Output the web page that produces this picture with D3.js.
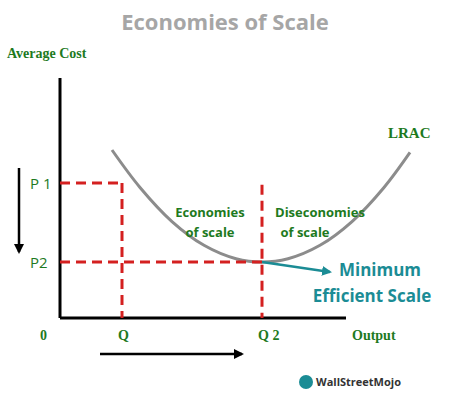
<!DOCTYPE html>
<html><head><meta charset="utf-8">
<script src="https://d3js.org/d3.v7.min.js"></script>
<style>body{margin:0;background:#fff}</style></head>
<body><svg id="c" width="469" height="405"></svg>
<script>
const curveX=[13,20,28,36,44,50.5,57,65,73,81,87.5];
const curveY=[70,54.4,40.2,30.3,24.7,23.3,24.7,30.3,40.2,54.4,69];
const qValues=[15.5,50.5];
const pValues=[56.25,23.3];
const qLabels=["Q","Q 2"];
const pLabels=["P 1","P2"];

const svg=d3.select("#c");
const x=d3.scaleLinear().domain([0,100]).range([60,460]);
const y=d3.scaleLinear().domain([0,100]).range([318,78]);
const green="#1e7a1e", red="#d42020", teal="#1b8c95";

svg.append("text").attr("x",225).attr("y",30).attr("text-anchor","middle")
 .attr("font-family","Open Sans").attr("font-weight","bold").attr("font-size",22).attr("fill","#a6a6a6").text("Economies of Scale");
svg.append("text").attr("x",7).attr("y",58).attr("font-family","Liberation Serif").attr("font-weight","bold").attr("font-size",14).attr("fill",green).text("Average Cost");

// axes
svg.append("line").attr("x1",x(0)).attr("x2",x(0)).attr("y1",y(100)).attr("y2",y(0)).attr("stroke","#000").attr("stroke-width",3);
svg.append("line").attr("x1",x(0)).attr("x2",x(71.5)).attr("y1",y(0)).attr("y2",y(0)).attr("stroke","#000").attr("stroke-width",3);

// curve
const pts=curveX.map((d,i)=>[x(d),y(curveY[i])]);
svg.append("path").attr("d",d3.line().curve(d3.curveCatmullRom)(pts)).attr("fill","none").attr("stroke","#8c8c8c").attr("stroke-width",3);
svg.append("text").attr("x",388).attr("y",138).attr("font-family","Liberation Serif").attr("font-weight","bold").attr("font-size",15).attr("fill",green).text("LRAC");

// dashed guides
const dash="10,6";
svg.append("line").attr("x1",x(0)).attr("x2",x(qValues[0])).attr("y1",y(pValues[0])).attr("y2",y(pValues[0])).attr("stroke",red).attr("stroke-width",3).attr("stroke-dasharray",dash);
svg.append("line").attr("x1",x(qValues[0])).attr("x2",x(qValues[0])).attr("y1",y(pValues[0])).attr("y2",y(0)).attr("stroke",red).attr("stroke-width",3).attr("stroke-dasharray",dash);
svg.append("line").attr("x1",x(0)).attr("x2",x(qValues[1])).attr("y1",y(pValues[1])).attr("y2",y(pValues[1])).attr("stroke",red).attr("stroke-width",3).attr("stroke-dasharray",dash);
svg.append("line").attr("x1",x(qValues[1])).attr("x2",x(qValues[1])).attr("y1",y(55.5)).attr("y2",y(0)).attr("stroke",red).attr("stroke-width",3).attr("stroke-dasharray",dash);

// labels
pValues.forEach((p,i)=>svg.append("text").attr("x",30).attr("y",y(p)+6).attr("font-family","Open Sans").attr("font-size",15).attr("fill",green).text(pLabels[i]));
qValues.forEach((q,i)=>svg.append("text").attr("x",x(q)-4).attr("y",340).attr("font-family","Liberation Serif").attr("font-weight","bold").attr("font-size",14).attr("fill",green).text(qLabels[i]));
svg.append("text").attr("x",40).attr("y",340).attr("font-family","Liberation Serif").attr("font-weight","bold").attr("font-size",14).attr("fill",green).text("0");
svg.append("text").attr("x",352).attr("y",340).attr("font-family","Liberation Serif").attr("font-weight","bold").attr("font-size",14).attr("fill",green).text("Output");

// arrows
const defs=svg.append("defs");
function mk(id,c){defs.append("marker").attr("id",id).attr("viewBox","0 0 10 10").attr("refX",8).attr("refY",5).attr("markerWidth",4).attr("markerHeight",4).attr("orient","auto").append("path").attr("d","M0,0L10,5L0,10z").attr("fill",c);}
mk("ab","#000");mk("at",teal);
svg.append("line").attr("x1",19).attr("x2",19).attr("y1",168).attr("y2",252).attr("stroke","#000").attr("stroke-width",2.5).attr("marker-end","url(#ab)");
svg.append("line").attr("x1",100).attr("x2",242).attr("y1",354).attr("y2",354).attr("stroke","#000").attr("stroke-width",2.5).attr("marker-end","url(#ab)");
svg.append("line").attr("x1",x(qValues[1])).attr("x2",330).attr("y1",y(pValues[1])).attr("y2",272).attr("stroke",teal).attr("stroke-width",2.5).attr("marker-end","url(#at)");

function t(xx,yy,s,c,sz,anc){svg.append("text").attr("x",xx).attr("y",yy).attr("text-anchor",anc||"middle").attr("font-family","Open Sans").attr("font-weight","bold").attr("font-size",sz).attr("fill",c).text(s);}
t(210,217,"Economies",green,13);t(210,237,"of scale",green,13);
t(320,217,"Diseconomies",green,13);t(305,237,"of scale",green,13);
t(380,276,"Minimum",teal,17);t(372,302,"Efficient Scale",teal,17);

// logo
svg.append("circle").attr("cx",306).attr("cy",382).attr("r",7).attr("fill",teal);
svg.append("text").attr("x",316).attr("y",386).attr("font-family","Open Sans").attr("font-weight","bold").attr("font-size",11).attr("fill","#333").text("WallStreetMojo");
</script></body></html>
